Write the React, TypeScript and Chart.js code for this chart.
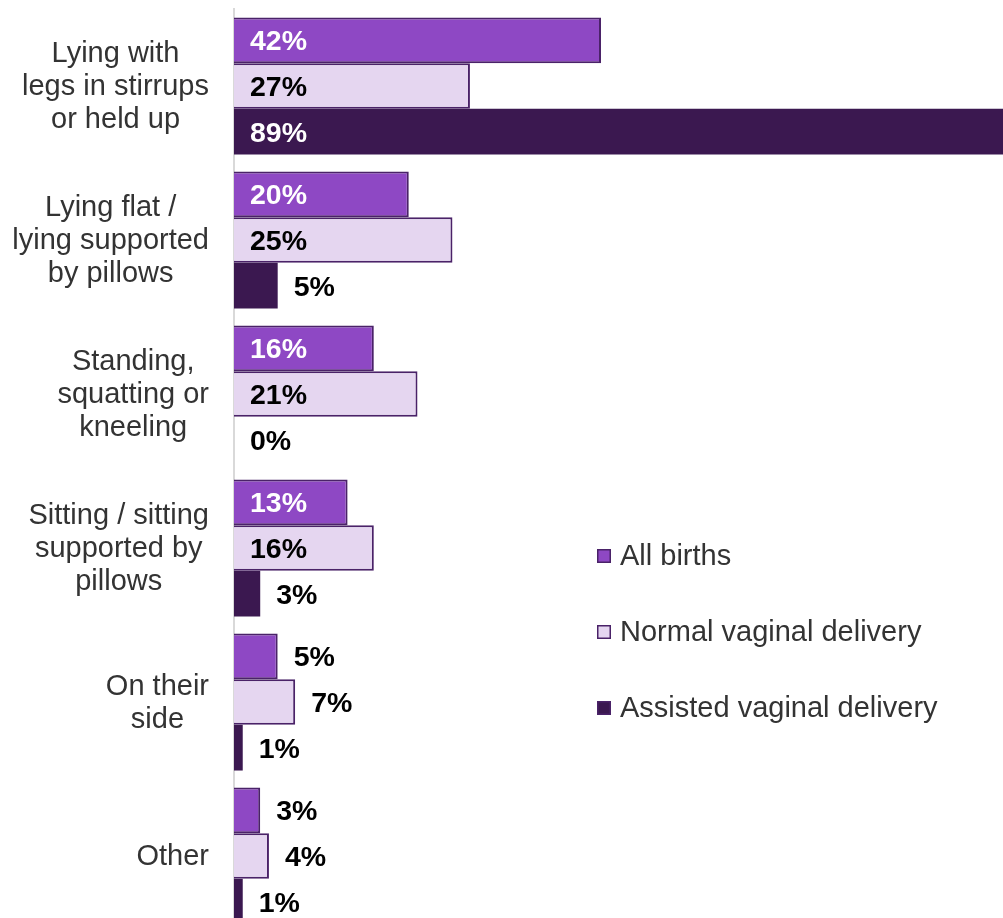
import React, { useEffect, useRef } from "react";
import { Chart, registerables } from "chart.js";

Chart.register(...registerables);

const categories: string[][] = [
  ["Lying with", "legs in stirrups", "or held up"],
  ["Lying flat /", "lying supported", "by pillows"],
  ["Standing,", "squatting or", "kneeling"],
  ["Sitting / sitting", "supported by", "pillows"],
  ["On their", "side"],
  ["Other"],
];

const seriesNames = ["All births", "Normal vaginal delivery", "Assisted vaginal delivery"];
const allBirths = [42, 20, 16, 13, 5, 3];
const normalVaginal = [27, 25, 21, 16, 7, 4];
const assistedVaginal = [89, 5, 0, 3, 1, 1];

const fillColors = ["#8e48c4", "#e5d6f0", "#3b1850"];
const borderColor = "#4a2268";
const insideTextColors = ["#ffffff", "#000000", "#ffffff"];
const FONT = "'Liberation Sans', Arial, sans-serif";

const yLabelPlugin = {
  id: "yLabels",
  afterDraw(chart: any) {
    const ctx = chart.ctx;
    const yScale = chart.scales.y;
    const rightEdge = chart.chartArea.left - 25;
    const lineH = 33;
    ctx.save();
    ctx.font = `29px ${FONT}`;
    ctx.fillStyle = "#333333";
    ctx.textAlign = "center";
    ctx.textBaseline = "middle";
    categories.forEach((lines, i) => {
      const cy = yScale.getPixelForValue(i);
      const blockW = Math.max(...lines.map((l) => ctx.measureText(l).width));
      const cx = rightEdge - blockW / 2;
      const top = cy - ((lines.length - 1) * lineH) / 2;
      lines.forEach((l, j) => ctx.fillText(l, cx, top + j * lineH + 1));
    });
    ctx.restore();
  },
};

const dataLabelPlugin = {
  id: "dataLabels",
  afterDatasetsDraw(chart: any) {
    const ctx = chart.ctx;
    ctx.save();
    ctx.font = `bold 28.5px ${FONT}`;
    ctx.textBaseline = "middle";
    ctx.textAlign = "left";
    chart.data.datasets.forEach((ds: any, di: number) => {
      const meta = chart.getDatasetMeta(di);
      meta.data.forEach((bar: any, i: number) => {
        const v = ds.data[i];
        const text = `${v}%`;
        const tw = ctx.measureText(text).width;
        const end = Math.min(bar.x, chart.chartArea.right);
        const w = end - bar.base;
        if (w >= tw + 32) {
          ctx.fillStyle = insideTextColors[di];
          ctx.fillText(text, bar.base + 16, bar.y + 2);
        } else {
          ctx.fillStyle = "#000000";
          ctx.fillText(text, bar.x + 16, bar.y + 2);
        }
      });
    });
    ctx.restore();
  },
};

const legendPlugin = {
  id: "customLegend",
  afterDraw(chart: any) {
    const ctx = chart.ctx;
    const x0 = 597;
    const ys = [556, 632, 708];
    ctx.save();
    ctx.font = `29px ${FONT}`;
    ctx.textBaseline = "middle";
    ctx.textAlign = "left";
    seriesNames.forEach((name, i) => {
      const y = ys[i];
      ctx.fillStyle = fillColors[i];
      ctx.fillRect(x0, y - 7, 14, 14);
      ctx.strokeStyle = borderColor;
      ctx.lineWidth = 1.5;
      ctx.strokeRect(x0 + 0.75, y - 6.25, 12.5, 12.5);
      ctx.fillStyle = "#333333";
      ctx.fillText(name, x0 + 23, y + 1);
    });
    ctx.restore();
  },
};

export default function App() {
  const canvasRef = useRef<HTMLCanvasElement | null>(null);

  useEffect(() => {
    document.body.style.margin = "0";
    const canvas = canvasRef.current;
    if (!canvas) return;
    const chart = new Chart(canvas, {
      type: "bar",
      data: {
        labels: categories.map((c) => c.join(" ")),
        datasets: [allBirths, normalVaginal, assistedVaginal].map((d, i) => ({
          label: seriesNames[i],
          data: d,
          backgroundColor: fillColors[i],
          borderColor: borderColor,
          borderWidth: i === 2 ? 0 : 2,
          barPercentage: 1,
          categoryPercentage: 0.89,
        })),
      },
      options: {
        indexAxis: "y",
        responsive: false,
        animation: false,
        devicePixelRatio: 1,
        layout: { padding: { left: 226, right: 0, top: 9, bottom: 7 } },
        plugins: {
          legend: { display: false },
          tooltip: { enabled: false },
        },
        scales: {
          x: {
            min: 0,
            max: 88,
            display: false,
          },
          y: {
            display: true,
            ticks: { display: false },
            grid: { display: false },
            border: { display: true, color: "#d9d9d9", width: 2 },
          },
        },
      },
      plugins: [yLabelPlugin, dataLabelPlugin, legendPlugin],
    });
    return () => chart.destroy();
  }, []);

  return (
    <div style={{ width: 1003, height: 918, overflow: "hidden", background: "#fff" }}>
      <canvas ref={canvasRef} width={1003} height={940} style={{ display: "block" }} />
    </div>
  );
}
